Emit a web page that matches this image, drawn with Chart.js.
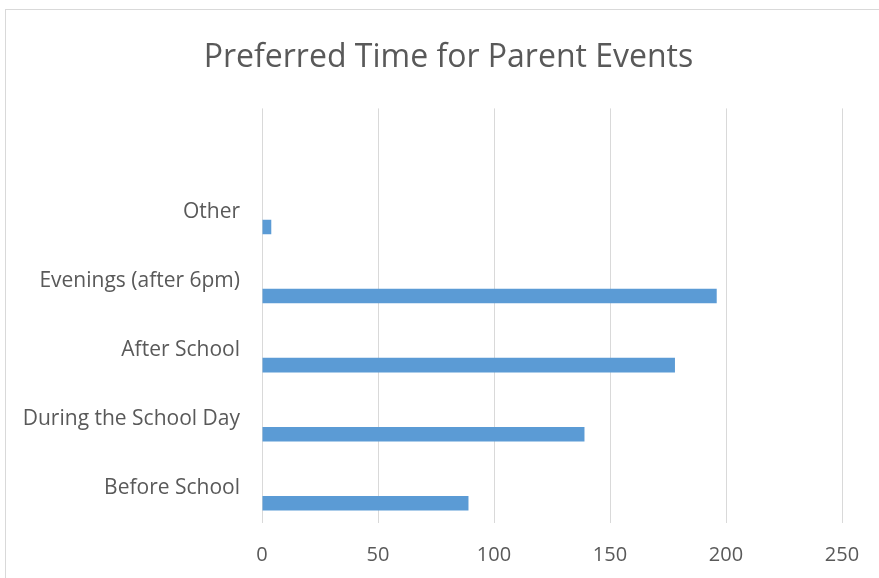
<!DOCTYPE html>
<html>
<head>
<meta charset="utf-8">
<script src="https://cdn.jsdelivr.net/npm/chart.js@4"></script>
<style>
  html, body { margin: 0; padding: 0; background: #fff; }
  body { width: 879px; height: 578px; overflow: hidden; position: relative; }
  #frame {
    position: absolute; left: 5px; top: 9px;
    width: 885px; height: 568px;
    border-left: 1px solid #d9d9d9; border-top: 1px solid #d9d9d9;
  }
  #chart { display: block; }
</style>
</head>
<body>
<div id="frame"><canvas id="chart" width="885" height="568"></canvas></div>
<script>
const categories = ["", "Other", "Evenings (after 6pm)", "After School", "During the School Day", "Before School"];
const responses = [null, 4, 196, 178, 139, 89];
// the sheet had a second, empty series - it pushes the real bars below the labels
const emptySeries = [null, null, null, null, null, null];
const xTicks = [0, 50, 100, 150, 200, 250];

const textColor = "#595959";
const fontFamily = "'Open Sans', sans-serif";

new Chart(document.getElementById("chart").getContext("2d"), {
    type: "bar",
    data: {
        labels: categories,
        datasets: [
            {
                label: "",
                data: emptySeries,
                backgroundColor: "#ed7d31",
                categoryPercentage: 0.86,
                barPercentage: 0.49
            },
            {
                label: "Responses",
                data: responses,
                backgroundColor: "#5b9bd5",
                borderWidth: 0,
                categoryPercentage: 0.86,
                barPercentage: 0.49
            }
        ]
    },
    options: {
        indexAxis: "y",
        responsive: false,
        animation: false,
        layout: { padding: 0 },
        plugins: {
            legend: { display: false },
            tooltip: { enabled: false },
            title: {
                display: true,
                text: "Preferred Time for Parent Events",
                color: textColor,
                font: { family: fontFamily, size: 32, weight: "normal" },
                padding: { top: 29, bottom: 31 }
            }
        },
        scales: {
            x: {
                min: xTicks[0],
                max: xTicks[xTicks.length - 1],
                ticks: {
                    stepSize: xTicks[1] - xTicks[0],
                    color: textColor,
                    font: { family: fontFamily, size: 20 },
                    padding: 20,
                    maxRotation: 0
                },
                grid: { color: "#d9d9d9", lineWidth: 1, drawTicks: false },
                border: { display: false },
                afterFit: (scale) => { scale.height = 55; }
            },
            y: {
                ticks: {
                    color: textColor,
                    font: { family: fontFamily, size: 21 },
                    padding: 22
                },
                grid: { display: false, drawTicks: false },
                border: { display: false },
                afterFit: (scale) => { scale.width = 256; }
            },
            // empty right-hand gutter, keeps the title centred on the whole frame
            gutter: {
                type: "linear",
                position: "right",
                ticks: { display: false },
                grid: { display: false, drawTicks: false },
                border: { display: false },
                afterFit: (scale) => { scale.width = 49; }
            }
        }
    }
});
</script>
</body>
</html>
